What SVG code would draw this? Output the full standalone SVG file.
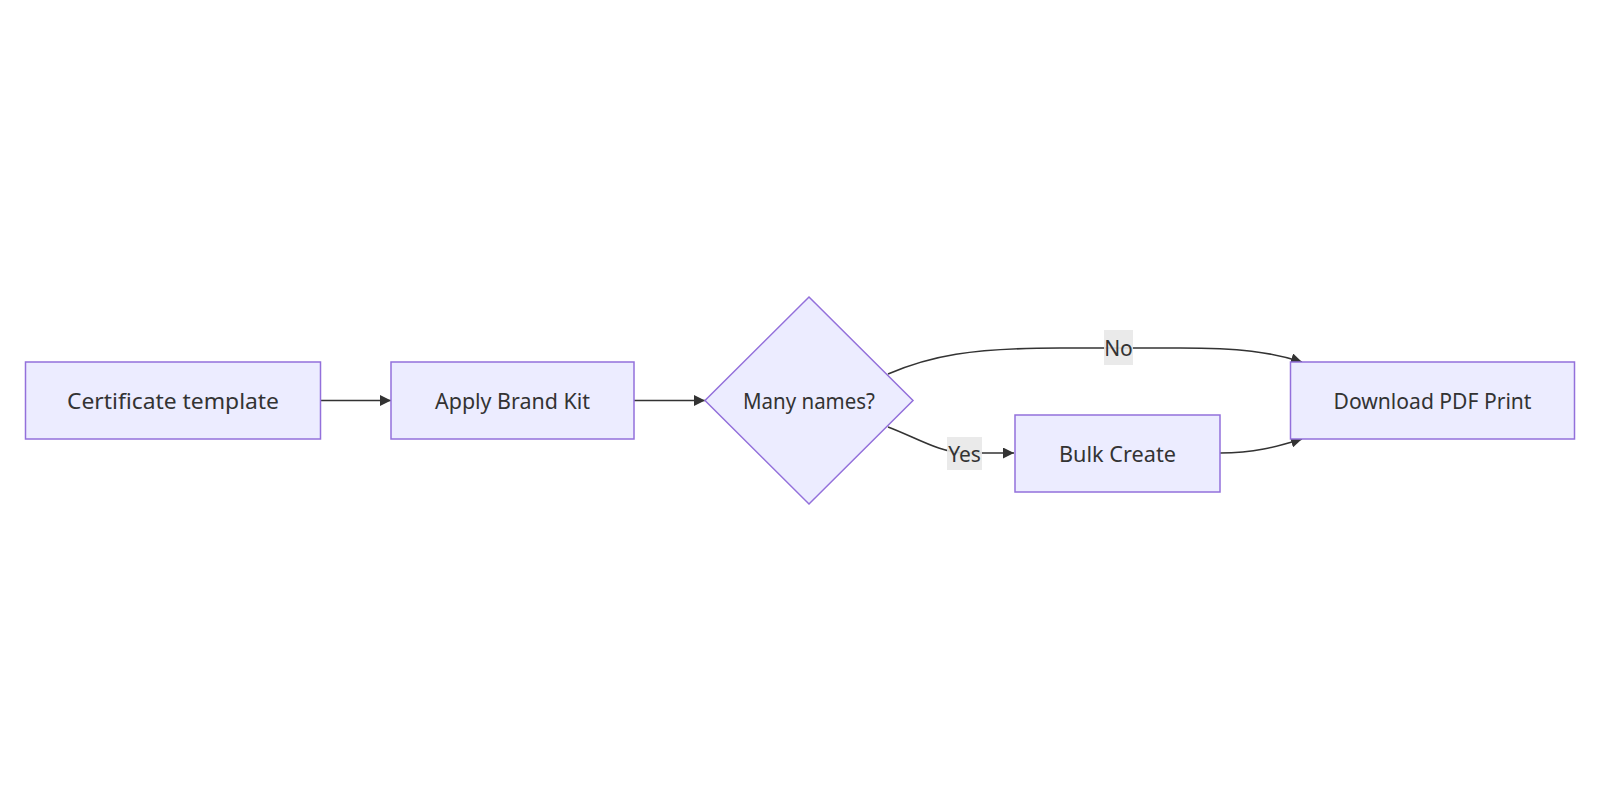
<svg xmlns="http://www.w3.org/2000/svg" width="1600" height="800" viewBox="0 0 1600 800">
<defs>
<style>
.node rect, .node polygon { fill: #ECECFF; stroke: #9370DB; stroke-width: 1.5; }
.label { font-family: "Noto Sans", "DejaVu Sans", sans-serif; font-size: 21px; fill: #333333; text-anchor: middle; dominant-baseline: central; }
.edge { fill: none; stroke: #333333; stroke-width: 1.6; }
.elbg { fill: #E8E8E8; opacity: 0.9; }
</style>
<marker id="arrow" viewBox="0 0 10 10" refX="10" refY="5" markerWidth="11" markerHeight="11" markerUnits="userSpaceOnUse" orient="auto">
<path d="M0,0 L10,5 L0,10 z" fill="#333333"/>
</marker>
</defs>
<rect width="1600" height="800" fill="#FFFFFF"/>
<g id="connectors">
<path class="edge" d="M321,400.5 L391,400.5" marker-end="url(#arrow)"/>
<path class="edge" d="M634,400.5 L705,400.5" marker-end="url(#arrow)"/>
<path class="edge" d="M888,374 C930,356 970,348 1060,348 L1180,348 C1240,348 1270,352 1302,362" marker-end="url(#arrow)"/>
<path class="edge" d="M888,427 C915,437 940,453 965,453 L1014,453" marker-end="url(#arrow)"/>
<path class="edge" d="M1220,453 C1255,453 1275,447 1302,439" marker-end="url(#arrow)"/>
<rect class="elbg" x="1104" y="330" width="29" height="35"/>
<text class="label" x="1118.5" y="348">No</text>
<rect class="elbg" x="947" y="437" width="35" height="33"/>
<text class="label" x="964.5" y="453.5">Yes</text>
</g>
<g id="n1" class="node">
<rect x="25.5" y="362" width="295" height="77"/>
<text class="label" x="173" y="400.5" textLength="212" lengthAdjust="spacingAndGlyphs">Certificate template</text>
</g>
<g id="n2" class="node">
<rect x="391" y="362" width="243" height="77"/>
<text class="label" x="512.5" y="400.5" textLength="155" lengthAdjust="spacingAndGlyphs">Apply Brand Kit</text>
</g>
<g id="n3" class="node">
<polygon points="809,297 913,400.5 809,504 705,400.5"/>
<text class="label" x="809" y="400.5" textLength="132" lengthAdjust="spacingAndGlyphs">Many names?</text>
</g>
<g id="n4" class="node">
<rect x="1015" y="415" width="205" height="77"/>
<text class="label" x="1117.5" y="453.5" textLength="117" lengthAdjust="spacingAndGlyphs">Bulk Create</text>
</g>
<g id="n5" class="node">
<rect x="1290.5" y="362" width="284" height="77"/>
<text class="label" x="1432.5" y="400.5" textLength="198" lengthAdjust="spacingAndGlyphs">Download PDF Print</text>
</g>
</svg>
